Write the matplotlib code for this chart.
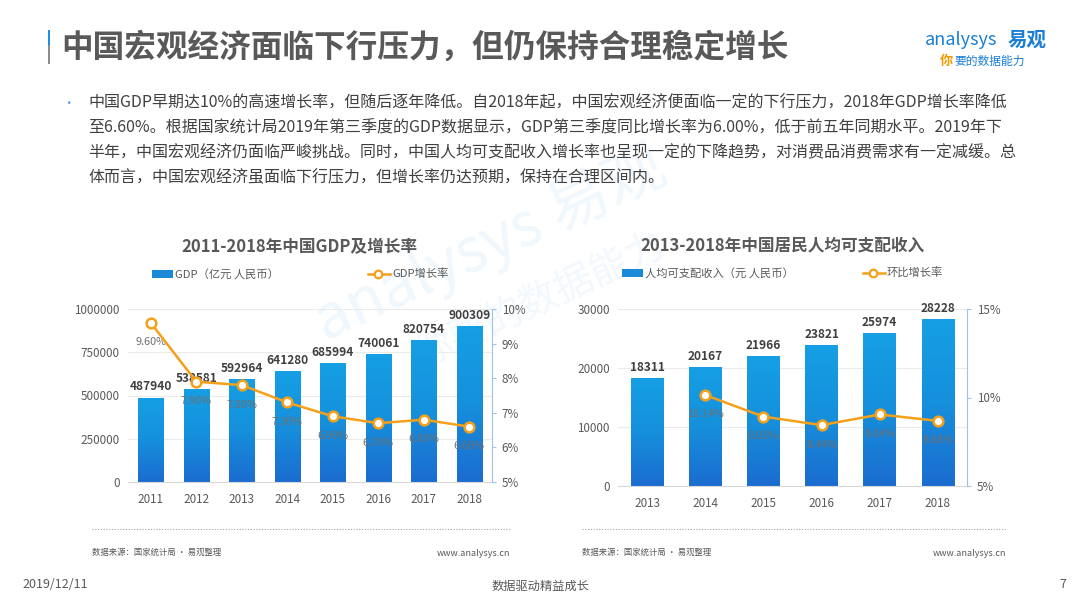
"""易观报告页：中国GDP及居民人均可支配收入（柱状+增长率折线）。"""
import numpy as np
import matplotlib
matplotlib.use("Agg")
import matplotlib.pyplot as plt
from matplotlib.colors import LinearSegmentedColormap
from matplotlib.lines import Line2D
from matplotlib.patches import Rectangle

plt.rcParams["font.family"] = ["Noto Sans CJK SC", "DejaVu Sans"]

# ---------- 数据 ----------
gdp_years = ["2011", "2012", "2013", "2014", "2015", "2016", "2017", "2018"]
gdp_values = [487940, 538581, 592964, 641280, 685994, 740061, 820754, 900309]
gdp_growth = [9.60, 7.90, 7.80, 7.30, 6.90, 6.70, 6.80, 6.60]

inc_years = ["2013", "2014", "2015", "2016", "2017", "2018"]
inc_values = [18311, 20167, 21966, 23821, 25974, 28228]
inc_growth_years = ["2014", "2015", "2016", "2017", "2018"]
inc_growth = [10.14, 8.92, 8.44, 9.04, 8.68]

gdp_ticks = [0, 250000, 500000, 750000, 1000000]
gdp_rticks = [5, 6, 7, 8, 9, 10]
inc_ticks = [0, 10000, 20000, 30000]
inc_rticks = [5, 10, 15]

title = "中国宏观经济面临下行压力，但仍保持合理稳定增长"
body = ["中国GDP早期达10%的高速增长率，但随后逐年降低。自2018年起，中国宏观经济便面临一定的下行压力，2018年GDP增长率降低",
        "至6.60%。根据国家统计局2019年第三季度的GDP数据显示，GDP第三季度同比增长率为6.00%，低于前五年同期水平。2019年下",
        "半年，中国宏观经济仍面临严峻挑战。同时，中国人均可支配收入增长率也呈现一定的下降趋势，对消费品消费需求有一定减缓。总",
        "体而言，中国宏观经济虽面临下行压力，但增长率仍达预期，保持在合理区间内。"]

GRAY = "#595959"
ORANGE = "#f5a01a"
bar_cmap = LinearSegmentedColormap.from_list("bar", ["#1b6ccf", "#1690dc", "#159fe4"])
W, H = 1080, 608


def painel(ax, years, values, ticks, gyears, growth, rlim, rticks):
    x = np.arange(len(years))
    bars = ax.bar(x, values, width=0.56, color="#1a8ad8", zorder=2)
    grad = np.linspace(0, 1, 128).reshape(-1, 1)
    for b in bars:
        x0, w, h = b.get_x(), b.get_width(), b.get_height()
        im = ax.imshow(grad, extent=[x0, x0 + w, 0, h], origin="lower", aspect="auto",
                       cmap=bar_cmap, zorder=2.1)
        im.set_clip_path(b)
    for xi, v in zip(x, values):
        ax.annotate(f"{v}", (xi, v), xytext=(0, 3), textcoords="offset points",
                    ha="center", va="bottom", fontsize=8.6, weight="bold", color="#404040")
    ax.set_xlim(-0.5, len(years) - 0.5)
    ax.set_ylim(ticks[0], ticks[-1])
    ax.set_yticks(ticks, [str(t) for t in ticks])
    ax.set_xticks(x, years)
    ax.set_aspect("auto")
    ax.yaxis.grid(True, color="#ebebeb", lw=0.8, zorder=0)
    ax.set_axisbelow(True)
    for s in ("top", "left", "right"):
        ax.spines[s].set_visible(False)
    ax.spines["bottom"].set_color("#d9d9d9")
    ax.tick_params(axis="y", length=0, pad=6, labelsize=8.4, labelcolor=GRAY)
    ax.tick_params(axis="x", length=0, pad=8, labelsize=8.4, labelcolor=GRAY)
    ax.patch.set_alpha(0)

    ax2 = ax.twinx()
    gx = [years.index(y) for y in gyears]
    ax2.plot(gx, growth, "-o", color=ORANGE, lw=1.8, ms=7, mfc="white", mec=ORANGE, mew=1.8,
             zorder=5, clip_on=False)
    for xi, g in zip(gx, growth):
        ax2.annotate(f"{g:.2f}%", (xi, g), xytext=(0, -14), textcoords="offset points",
                     ha="center", va="center", fontsize=7.8, color="#6f6f6f")
    ax2.set_ylim(*rlim)
    ax2.set_yticks(rticks, [f"{t}%" for t in rticks])
    for s in ("top", "left", "bottom"):
        ax2.spines[s].set_visible(False)
    ax2.spines["right"].set_color("#9dc3e6")
    ax2.tick_params(axis="y", length=3, width=0.8, color="#9dc3e6", pad=4,
                    labelsize=8.4, labelcolor=GRAY)
    ax2.set_xlim(-0.5, len(years) - 0.5)
    return ax2


fig = plt.figure(figsize=(W / 100, H / 100), dpi=100)
bg = fig.add_axes([0, 0, 1, 1])
bg.set_xlim(0, W); bg.set_ylim(H, 0); bg.axis("off")

# marca d'agua (bem clara)
bg.text(490, 245, "analysys 易观", rotation=25, fontsize=44, color="#f0f7fd",
        style="italic", ha="center", va="center", zorder=0)
bg.text(540, 300, "你要的数据能力", rotation=25, fontsize=28, color="#f2f8fd",
        ha="center", va="center", zorder=0)

# titulo
bg.add_patch(Rectangle((47.5, 30), 2.6, 15, color="#1e8fe1", lw=0))
bg.add_patch(Rectangle((47.5, 45), 2.6, 19, color="#8c8c8c", lw=0))
bg.text(61, 48, title, fontsize=22.8, weight="bold", color=GRAY, va="center")

# logo
bg.text(925, 40, "analysys", fontsize=13, color="#1a7fd4", style="italic", va="center")
bg.text(1008, 40, "易观", fontsize=14, color="#1a7fd4", weight="bold", va="center")
bg.text(940, 61, "你", fontsize=9.5, color="#f39800", weight="bold", va="center")
bg.text(954, 61, "要的数据能力", fontsize=8.5, color="#1a7fd4", va="center")

# texto
bg.text(62, 103, "•", fontsize=9, color="#5b9bd5", va="center")
for i, ln in enumerate(body):
    bg.text(88, 103 + i * 25, ln, fontsize=11.5, color="#404040", va="center")

# titulos e legendas dos graficos
bg.text(299, 247, "2011-2018年中国GDP及增长率", fontsize=12, weight="bold", color=GRAY,
        ha="center", va="center")
bg.text(782, 245, "2013-2018年中国居民人均可支配收入", fontsize=12, weight="bold", color=GRAY,
        ha="center", va="center")


def leg(xr, yc, t1, xl, t2):
    bg.add_patch(Rectangle((xr, yc - 4), 21, 8, color="#1a8ad8", lw=0))
    bg.text(xr + 23, yc, t1, fontsize=8.1, color=GRAY, va="center")
    bg.add_line(Line2D([xl, xl + 22], [yc, yc], color=ORANGE, lw=1.8))
    bg.plot([xl + 10], [yc], "o", ms=5.5, mfc="white", mec=ORANGE, mew=1.6)
    bg.text(xl + 24, yc, t2, fontsize=8.1, color=GRAY, va="center")


leg(152, 274, "GDP（亿元 人民币）", 368, "GDP增长率")
leg(622, 273, "人均可支配收入（元 人民币）", 863, "环比增长率")

# rodape dos graficos
for x0, x1 in ((92, 510), (582, 1006)):
    bg.plot([x0, x1], [529, 529], ls=(0, (1, 1.5)), color="#a6a6a6", lw=0.8)
    bg.text(x0, 552, "数据来源：国家统计局 · 易观整理", fontsize=6, color=GRAY, va="center")
    bg.text(x1, 554, "www.analysys.cn", fontsize=6.5, color=GRAY, va="center", ha="right")

bg.text(22, 585, "2019/12/11", fontsize=9, color=GRAY, va="center")
bg.text(541, 586, "数据驱动精益成长", fontsize=8.8, color=GRAY, va="center", ha="center")
bg.text(1066, 584, "7", fontsize=9, color=GRAY, va="center", ha="right")

# graficos
axl = fig.add_axes([128 / W, 1 - 482 / H, 364 / W, 173 / H])
painel(axl, gdp_years, gdp_values, gdp_ticks, gdp_years, gdp_growth, (5, 10), gdp_rticks)
axr = fig.add_axes([618 / W, 1 - 486 / H, 349 / W, 177 / H])
painel(axr, inc_years, inc_values, inc_ticks, inc_growth_years, inc_growth, (5, 15), inc_rticks)

fig.savefig("out.png", dpi=100)
